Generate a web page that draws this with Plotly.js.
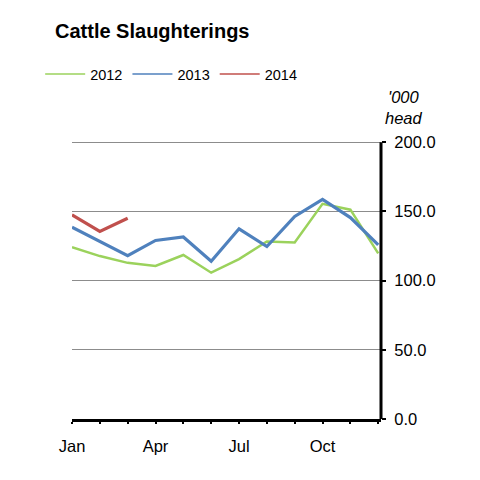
<!DOCTYPE html>
<html>
<head>
<meta charset="utf-8">
<script src="https://cdn.plot.ly/plotly-3.0.1.min.js"></script>
<style>html,body{margin:0;padding:0;background:#fff;}#chart{width:480px;height:480px;}</style>
</head>
<body>
<div id="chart"></div>
<script>
var months = ['Jan','Feb','Mar','Apr','May','Jun','Jul','Aug','Sep','Oct','Nov','Dec'];
var tickLabels = ['Jan','','','Apr','','','Jul','','','Oct','',''];
var yTicks = [0, 50, 100, 150, 200];
var seriesNames = ['2012', '2013', '2014'];
var s2012 = [124.1, 117.7, 112.8, 110.6, 118.5, 105.7, 115.5, 128.3, 127.5, 155.4, 151.2, 119.7];
var s2013 = [138.6, 128.3, 118.0, 129.0, 131.5, 114.0, 137.4, 124.6, 146.3, 158.6, 145.5, 125.8];
var s2014 = [147.5, 135.5, 145.0];
var colors = ['#9BD25C', '#4F81BD', '#C0504D'];

var FONT = 'Liberation Sans, Arial, sans-serif';
var dataSets = [s2012, s2013, s2014];
var widths = [2.5, 3.2, 3.2];
var traces = [];
dataSets.forEach(function (vals, i) {
  traces.push({x: months.slice(0, vals.length), y: vals, name: seriesNames[i], legendgroup: seriesNames[i],
    type: 'scatter', mode: 'lines', showlegend: false, line: {color: colors[i], width: widths[i]}});
});
// thin legend keys (as in the original chart)
seriesNames.forEach(function (n, i) {
  traces.push({x: [null], y: [null], name: n, legendgroup: n, type: 'scatter', mode: 'lines',
    showlegend: true, line: {color: colors[i], width: 1.6}});
});

var layout = {
  width: 480, height: 480,
  margin: {l: 72, r: 99, t: 138, b: 61},
  paper_bgcolor: '#fff', plot_bgcolor: '#fff',
  font: {family: FONT, size: 16, color: '#000'},
  title: {text: '<b>Cattle Slaughterings</b>', x: 55/480, xanchor: 'left', y: 1 - 31/480, yanchor: 'middle', xref: 'container', yref: 'container', font: {family: FONT, size: 20, color: '#000'}},
  showlegend: true,
  legend: {orientation: 'h', x: -0.103, xanchor: 'left', y: (419-74)/281, yanchor: 'middle', font: {family: FONT, size: 14.5, color: '#000'}, itemwidth: 40, tracegroupgap: 0, bgcolor: 'rgba(0,0,0,0)'},
  xaxis: {
    type: 'category', range: [0, 11.1], tickvals: months, ticktext: tickLabels,
    showgrid: false, zeroline: false, showline: true, linecolor: '#000', linewidth: 3,
    ticks: 'outside', ticklen: 2, tickwidth: 2, tickcolor: '#000', ticklabelstandoff: 8,
    tickfont: {family: FONT, size: 16.5, color: '#000'}, fixedrange: true
  },
  yaxis: {
    side: 'right', range: [0, 203], tickvals: yTicks, tickformat: '.1f',
    showgrid: true, gridcolor: '#8c8c8c', gridwidth: 1, zeroline: false,
    showline: false,
    ticks: 'outside', ticklen: 4, tickwidth: 2, tickcolor: '#000', ticklabelstandoff: 5,
    tickfont: {family: FONT, size: 16.5, color: '#000'}, fixedrange: true
  },
  shapes: [{
    type: 'line', xref: 'paper', yref: 'y', x0: 1, x1: 1, y0: yTicks[0], y1: yTicks[yTicks.length - 1],
    line: {color: '#000', width: 3}, layer: 'above'
  }],
  annotations: [{
    text: "<i>'000<br>head</i>", xref: 'paper', yref: 'paper', x: (404-72)/309, y: (419-107)/281,
    xanchor: 'center', yanchor: 'middle', showarrow: false, align: 'center',
    font: {family: FONT, size: 16.5, color: '#000'}
  }]
};
Plotly.newPlot('chart', traces, layout, {staticPlot: true, displayModeBar: false});
</script>
</body>
</html>
